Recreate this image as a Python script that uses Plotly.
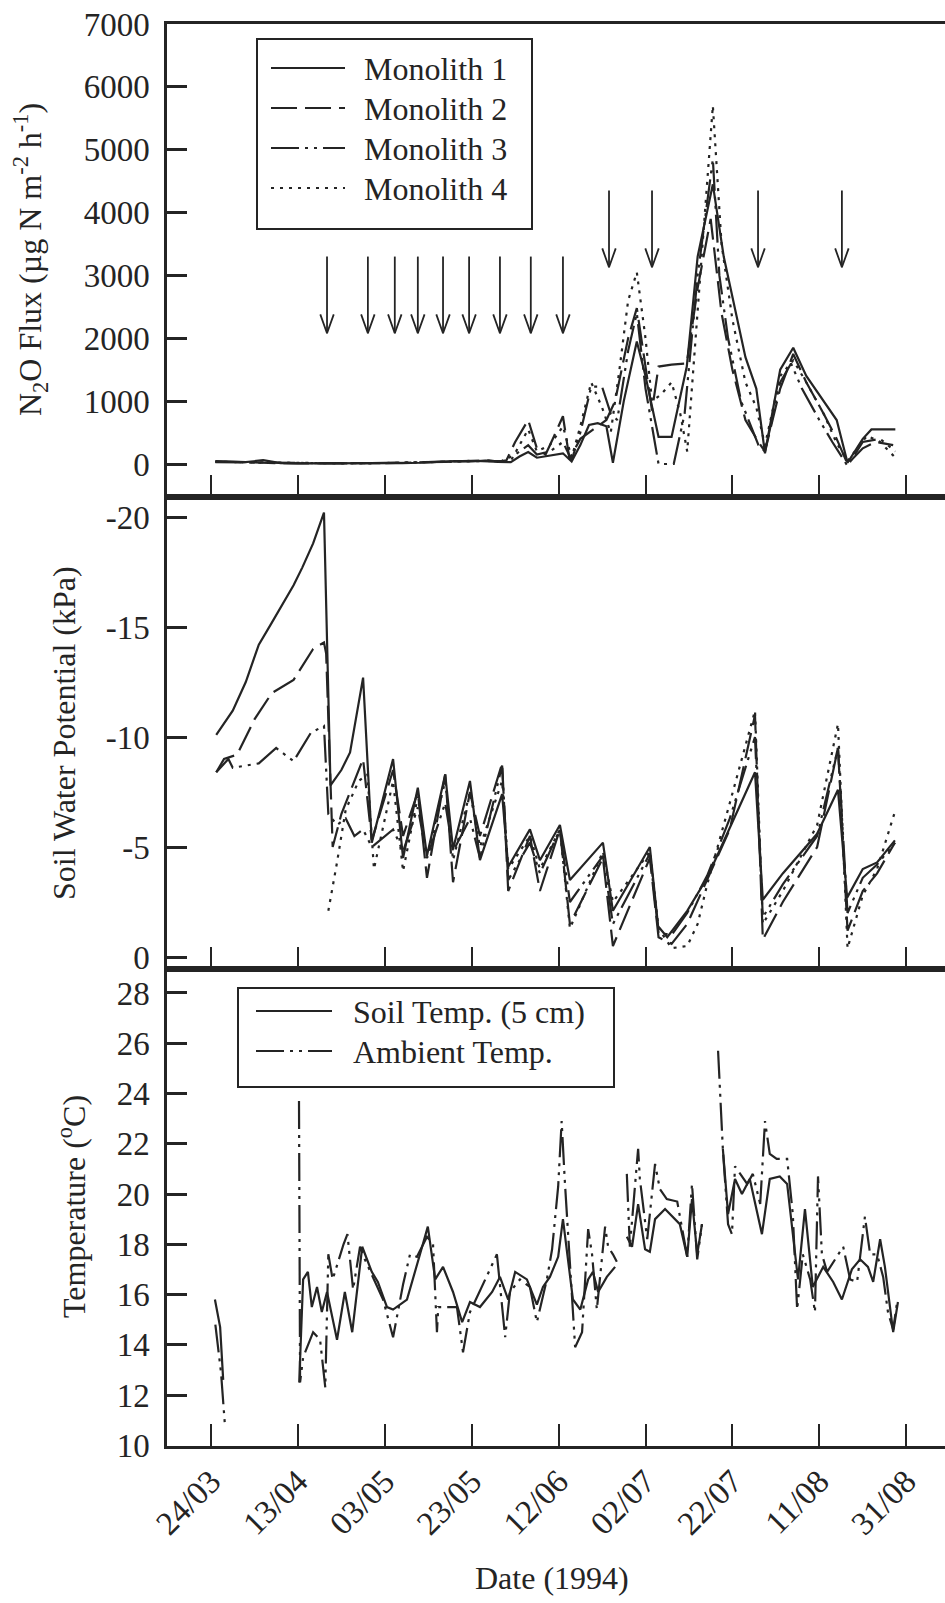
import pandas as pd
import plotly.graph_objects as go

BASE = pd.Timestamp("1994-03-24")   # day 0 of the day offsets below

# ---------------- N2O flux (ug N m-2 h-1) ----------------
flux_m1_days = [1, 4, 8, 12, 16, 20, 24, 28, 32, 36, 40, 44, 48, 52, 56, 60, 63, 66, 69, 71, 73, 75, 78, 81, 83, 85, 87, 89,
                91, 92.5, 95, 98, 100, 103, 106, 109.5, 112, 115.5, 118, 120.5, 123, 125.5, 127.5, 131, 134, 137, 141, 144,
                146.5, 150, 152, 157.5]
flux_m1 = [45, 35, 30, 60, 15, 10, 10, 5, 5, 10, 10, 15, 20, 30, 45, 40, 55, 35, 30, 120, 190, 100, 130, 170, 40, 300, 620, 650,
           600, 20, 1000, 1950, 1400, 430, 430, 1550, 3300, 4450, 3300, 2500, 1700, 1200, 170, 1500, 1850, 1400, 1000, 700,
           20, 400, 550, 550]

flux_m2_days = [1, 5, 10, 15, 20, 25, 30, 35, 40, 45, 50, 55, 60, 64, 66, 68, 70, 73, 75, 77, 79, 81, 82.5, 85, 88, 91, 93,
                96, 98, 100, 101.5, 103, 106, 109.5, 112, 115, 117.5, 120, 123, 126, 127.5, 131, 134, 137, 141, 144, 146.5,
                150, 153, 157]
flux_m2 = [40, 30, 25, 15, 10, 10, 5, 10, 15, 20, 25, 40, 50, 60, 40, 60, 350, 700, 250, 150, 450, 760, 80, 400, 550, 700, 1000,
           2000, 2480, 1500, 850, 1550, 1580, 1600, 2800, 3900, 2400, 1500, 700, 350, 200, 1200, 1750, 1300, 800, 400, 0,
           250, 350, 300]

flux_m3_days = [1, 6, 12, 18, 24, 30, 36, 42, 48, 54, 60, 64, 67, 70, 73, 75, 78, 81, 83, 85, 87.5, 90, 92, 93.5, 96, 98, 100,
                103, 106.5, 109, 112, 115.5, 117, 119, 122, 126, 127.5, 131, 133.5, 136, 140, 143, 146.5, 150, 154, 157.5]
flux_m3 = [30, 25, 20, 15, 10, 10, 15, 20, 25, 35, 50, 40, 50, 150, 300, 150, 200, 350, 60, 500, 1230, 1230, 800, 700, 1800,
           2400, 1200, 0, 0, 800, 3000, 4850, 3000, 2000, 1000, 300, 200, 1300, 1600, 1200, 700, 350, -30, 350, 400, 200]

flux_m4_days = [1, 6, 12, 18, 24, 30, 36, 42, 48, 54, 60, 64, 67, 69, 71, 73, 75, 78, 81, 83, 85, 87.5, 90, 92, 94, 96, 98,
                100, 101.5, 103.5, 106, 108, 109.6, 112, 115.5, 117.5, 120, 123, 125.5, 127.5, 131, 134, 137, 141, 144,
                146.5, 151, 154, 157.5]
flux_m4 = [35, 30, 20, 15, 10, 10, 10, 20, 25, 30, 45, 50, 40, 50, 300, 550, 200, 300, 600, 100, 600, 1300, 900, 500, 1500,
           2600, 3050, 2000, 1000, 1100, 1300, 800, 200, 2500, 5700, 3500, 2300, 1300, 900, 300, 1400, 1650, 1300, 800, 330,
           50, 450, 350, 100]

# event arrows (top panel)
arrow_days = [26.7, 36.1, 42.3, 47.6, 53.4, 59.4, 66.5, 73.6, 81.0, 91.6, 101.5, 125.9, 145.2]
arrow_top = [3300, 3300, 3300, 3300, 3300, 3300, 3300, 3300, 3300, 4350, 4350, 4350, 4350]
arrow_tip = [2080, 2080, 2080, 2080, 2080, 2080, 2080, 2080, 2080, 3130, 3130, 3130, 3130]

# ---------------- Soil water potential (kPa) ----------------
swp_m1_days = [1.2, 5, 8, 11, 14, 17, 19, 21, 23.5, 26, 27.5, 30, 32, 35, 37, 41.9, 44.2, 47.6, 49.7, 53.9, 55.7, 59.6, 61.9,
               67, 68.4, 73.4, 75.7, 80.3, 82.6, 90.2, 92.5, 101, 102.9, 105, 109.6, 114.2, 119.4, 125.2, 127, 131.6,
               139.5, 144.3, 146.4, 150, 153.3, 157.4]
swp_m1 = [-10.1, -11.2, -12.5, -14.2, -15.2, -16.2, -16.9, -17.7, -18.8, -20.2, -7.8, -8.5, -9.3, -12.7, -5.2, -9.0, -4.5,
          -7.7, -4.6, -8.3, -4.9, -8.0, -4.4, -7.4, -4.1, -5.8, -4.4, -6.0, -3.5, -5.2, -2.1, -5.0, -1.4, -0.9, -2.1, -3.6,
          -5.9, -8.4, -2.6, -3.8, -5.6, -7.6, -2.7, -4.0, -4.3, -5.3]

swp_m2_days = [1.2, 3, 6, 10, 14, 19, 23.5, 26, 26.5, 28, 30, 32, 35, 37, 41.9, 44.2, 47.6, 49.7, 53.9, 55.7, 59.6, 61.9, 67,
               68.4, 73.4, 75.7, 80.3, 82.6, 90.2, 92.5, 101, 103, 106, 109.6, 114.2, 119.4, 125.2, 127, 131.6, 139.5,
               144.3, 146.5, 150, 153.3, 157.4]
swp_m2 = [-8.4, -9.0, -9.2, -10.8, -12.0, -12.6, -14.0, -14.3, -13.8, -5.0, -6.5, -7.5, -9.0, -5.3, -8.5, -5.5, -7.5, -3.6,
          -8.3, -3.4, -7.5, -5.5, -8.8, -3.0, -5.5, -3.0, -5.8, -1.5, -4.5, -0.5, -4.5, -0.9, -0.6, -1.5, -3.5, -5.8, -11.0,
          -0.8, -2.5, -5.0, -9.5, -1.2, -3.0, -3.8, -5.2]

swp_m3_days = [1.2, 4, 5, 11, 15, 19, 23, 26, 27, 29, 31, 33, 35, 37, 41.9, 44.2, 47.6, 49.7, 53.9, 55.7, 59.6, 61.9, 67,
               68.4, 73.4, 75.7, 80.3, 82.6, 90.2, 92.5, 101, 103, 106, 109.6, 114.2, 119.4, 125.2, 127, 131.6, 139.5,
               144.3, 146.5, 150, 153.3, 157.4]
swp_m3 = [-8.4, -9.0, -8.6, -8.8, -9.5, -8.9, -10.2, -10.5, -6.5, -6.0, -6.3, -5.5, -5.8, -5.0, -5.8, -4.8, -6.8, -4.5, -7.0,
          -4.8, -6.3, -4.5, -8.7, -3.5, -5.2, -3.8, -5.8, -2.5, -4.6, -1.5, -4.7, -1.1, -1.0, -2.0, -3.7, -6.3, -10.0, -1.8,
          -3.3, -5.5, -9.5, -2.0, -3.6, -4.2, -5.2]

swp_m4_days = [27, 29, 31, 34, 36, 37.5, 41.9, 44.2, 47.6, 49.7, 53.9, 55.7, 59.6, 61.9, 67, 68.4, 73.4, 75.7, 80.3, 82.6,
               90.2, 92.5, 101, 103, 106, 109.6, 112, 114.2, 119.4, 125.2, 127, 131.6, 139.5, 144.3, 146.5, 150, 153.3,
               157.4]
swp_m4 = [-2.1, -4.3, -6.7, -8.0, -8.3, -4.0, -8.0, -3.9, -7.3, -4.5, -8.0, -4.4, -7.5, -5.0, -8.0, -4.0, -5.5, -4.0, -5.8,
          -1.3, -4.8, -2.5, -4.8, -1.3, -0.4, -0.5, -1.5, -3.3, -7.0, -11.2, -1.5, -3.0, -6.0, -10.6, -0.4, -2.8, -4.0, -6.6]

# ---------------- Temperature (deg C) ----------------
soil_t_days = [0.9, 2.1, 2.8, 10, 20.3, 21.2, 22.3, 23.2, 24.4, 25.5, 26.7, 29, 30.8, 32.5, 34.8, 37, 38.4, 40.5, 41.9, 45.1,
               48.1, 49.9, 51.6, 53.4, 55.7, 57.8, 59.6, 61.9, 64.7, 66.5, 68.4, 70, 72.7, 75, 76.4, 78, 79.9, 81, 83.3, 85,
               86.8, 87.9, 89.1, 91.1, 93, 94.5, 95.7, 96.9, 98.3, 99.9, 101, 102.2, 104.5, 107.9, 109.6, 110.7, 111.9, 113,
               115, 117.8, 119, 120.6, 122.2, 124, 126.8, 128.6, 130.9, 132.6, 133.9, 135.1, 136.7, 138.5, 140.9, 143.2,
               145.2, 147.5, 149.4, 151.2, 152.4, 154, 155.1, 157, 158.1]
soil_t = [15.8, 14.7, 12.6, None, 12.5, 16.6, 16.9, 15.5, 16.3, 15.3, 16.1, 14.2, 16.1, 14.5, 17.9, 16.9, 16.5, 15.5, 15.4,
          15.8, 17.6, 18.7, 16.6, 17.1, 16.1, 14.9, 15.7, 15.5, 16.1, 16.7, 15.8, 16.9, 16.6, 15.6, 16.3, 16.7, 17.5, 19.0,
          15.8, 15.4, 16.6, 16.9, 16.1, 16.7, 17.1, None, 18.3, 17.9, 19.6, 17.8, 17.7, 19.0, 19.4, 18.8, 17.5, 19.8, 17.6,
          18.8, None, 21.8, 19.2, 20.6, 20.0, 20.6, 18.4, 20.6, 20.7, 20.4, 18.4, 16.6, 19.4, 16.3, 17.1, 16.5, 15.8, 17.0,
          17.4, 17.1, 16.5, 18.2, 17.1, 14.5, 15.7]

amb_t_days = [1.0, 2.3, 3.2, 10, 20.25, 20.5, 21.2, 23.5, 25.1, 26.3, 27, 28, 30.5, 31.4, 32.7, 34.3, 35.4, 39.6, 41.9, 44.2,
              45.8, 47.4, 49.7, 51.1, 52, 52.3, 54.3, 56.6, 58, 59.6, 64.2, 65.8, 67.7, 68.8, 71.1, 73.4, 75, 77.3, 78.5,
              79.9, 80.7, 81.4, 83.3, 83.8, 85.4, 86.8, 87.7, 88.8, 90.7, 91.4, 92.5, 93.4, 94.5, 95.7, 96.4, 98.3, 98.7,
              100.4, 102.2, 103.3, 104.9, 107.3, 109.6, 110.7, 111.9, 113, 115, 116.7, 117.8, 119, 119.9, 120.6, 121.8,
              123.4, 124.7, 126.4, 127.5, 128.6, 130.2, 132.6, 133.9, 134.9, 136.2, 137.9, 139, 139.7, 140.6, 141.8,
              145.5, 147.1, 148.7, 150.5, 151.7, 153.3, 154.7, 155.8, 157, 157.9]
amb_t = [14.8, 12.9, 10.8, None, 23.7, 12.5, 13.5, 14.5, 14.2, 12.3, 17.6, 16.6, 18.0, 18.4, 16.2, 17.9, 17.4, 15.8, 14.3,
         16.4, 17.6, 17.5, 18.3, 18.0, 14.5, 15.5, 15.5, 15.5, 13.7, 15.3, 17.0, 17.6, 14.3, 16.1, 16.6, 16.3, 14.9, 16.6,
         17.8, 20.3, 22.9, 20.6, 15.3, 13.9, 14.5, 18.6, 17.6, 15.4, 18.7, 17.9, 17.6, 17.3, None, 20.8, 17.9, 21.8, 20.6,
         18.2, 21.2, 20.2, 19.8, 19.7, 17.5, 20.4, 17.4, 18.8, None, 25.7, 21.8, 18.8, 18.4, 21.1, 20.8, 20.4, 20.8, 19.6,
         22.9, 21.6, 21.4, 21.4, 19.2, 15.4, 17.6, 16.6, 15.3, 20.7, 17.6, 16.9, 17.9, 16.6, 16.5, 19.1, 17.6, 17.6, 16.7,
         15.3, 14.6, 15.7]

# ---------------- axes / labels ----------------
flux_ticks = [0, 1000, 2000, 3000, 4000, 5000, 6000, 7000]
swp_ticks = [-20, -15, -10, -5, 0]
temp_ticks = [10, 12, 14, 16, 18, 20, 22, 24, 26, 28]
date_tick_days = [0, 20, 40, 60, 80, 100, 120, 140, 160]
date_tick_text = ["24/03", "13/04", "03/05", "23/05", "12/06", "02/07", "22/07", "11/08", "31/08"]
monolith_names = ["Monolith 1", "Monolith 2", "Monolith 3", "Monolith 4"]
temp_names = ["Soil Temp. (5 cm)", "Ambient Temp."]

# ---------------- styling ----------------
W, H = 945, 1603
ML, MR, MT, MB = 167, 0, 24, 157
INK = "#242424"
FONT = "Liberation Serif"
DASHES = ["solid", "26px,8px", "28px,6px,3px,6px,3px,6px", "3px,6px"]
AMB_DASH = "28px,6px,3px,6px,3px,6px"
LW = 2.2


def dates(days):
    return [None if d is None else BASE + pd.Timedelta(days=d) for d in days]


def xp(px):
    return (px - ML) / (W - ML - MR)


def yp(py):
    return (H - MB - py) / (H - MT - MB)


fig = go.Figure()

for d, v, dash in zip([flux_m1_days, flux_m2_days, flux_m3_days, flux_m4_days],
                      [flux_m1, flux_m2, flux_m3, flux_m4], DASHES):
    fig.add_trace(go.Scatter(x=dates(d), y=v, mode="lines", line=dict(color=INK, width=LW, dash=dash),
                             xaxis="x", yaxis="y", showlegend=False))

# arrows
HEAD_W, HEAD_H = 1.55, 300
axd, ayv = [], []
for d, top, tip in zip(arrow_days, arrow_top, arrow_tip):
    axd += [d, d, None, d - HEAD_W, d, d + HEAD_W, None]
    ayv += [top, tip, None, tip + HEAD_H, tip, tip + HEAD_H, None]
fig.add_trace(go.Scatter(x=dates(axd), y=ayv, mode="lines", line=dict(color=INK, width=1.8),
                         xaxis="x", yaxis="y", showlegend=False, connectgaps=False))

for d, v, dash in zip([swp_m1_days, swp_m2_days, swp_m3_days, swp_m4_days],
                      [swp_m1, swp_m2, swp_m3, swp_m4], DASHES):
    fig.add_trace(go.Scatter(x=dates(d), y=v, mode="lines", line=dict(color=INK, width=LW, dash=dash),
                             xaxis="x2", yaxis="y2", showlegend=False))

fig.add_trace(go.Scatter(x=dates(soil_t_days), y=soil_t, mode="lines", line=dict(color=INK, width=LW),
                         xaxis="x3", yaxis="y3", showlegend=False, connectgaps=False))
fig.add_trace(go.Scatter(x=dates(amb_t_days), y=amb_t, mode="lines", line=dict(color=INK, width=LW, dash=AMB_DASH),
                         xaxis="x3", yaxis="y3", showlegend=False, connectgaps=False))

x_range = [BASE + pd.Timedelta(days=-10.13), BASE + pd.Timedelta(days=168.93)]
d_top, d_mid = yp(497), yp(969)

xcommon = dict(type="date", range=x_range, tickmode="array", tickvals=dates(date_tick_days), ticktext=date_tick_text,
               ticks="inside", ticklen=22, tickwidth=2, tickcolor=INK, showline=True, linewidth=2.5, linecolor=INK,
               mirror=True, showgrid=False, zeroline=False)
ycommon = dict(ticks="inside", ticklen=20, tickwidth=2.5, tickcolor=INK, showline=True, linewidth=2.5,
               linecolor=INK, showgrid=False, zeroline=False, ticklabelstandoff=8,
               tickfont=dict(family=FONT, size=33, color=INK))

fig.update_layout(
    width=W, height=H, margin=dict(l=ML, r=MR, t=MT, b=MB),
    paper_bgcolor="white", plot_bgcolor="white",
    font=dict(family=FONT, color=INK),
    xaxis=dict(xcommon, anchor="y", showticklabels=False),
    xaxis2=dict(xcommon, anchor="y2", matches="x", showticklabels=False),
    xaxis3=dict(xcommon, anchor="y3", matches="x", showticklabels=True, tickangle=-45,
                tickfont=dict(family=FONT, size=33, color=INK)),
    yaxis=dict(ycommon, domain=[d_top, 1], anchor="x", range=[-525, 7000],
               tickvals=flux_ticks, ticktext=[str(t) for t in flux_ticks]),
    yaxis2=dict(ycommon, domain=[d_mid, d_top], anchor="x2", range=[0.545, -20.91],
                tickvals=swp_ticks, ticktext=[str(t) for t in swp_ticks]),
    yaxis3=dict(ycommon, domain=[0, d_mid], anchor="x3", range=[9.97, 28.955],
                tickvals=temp_ticks, ticktext=[str(t) for t in temp_ticks]),
)

ann = []
ann.append(dict(text="N<sub>2</sub>O Flux (µg N m<sup>-2</sup> h<sup>-1</sup>)", x=xp(30), y=yp(260), textangle=-90))
ann.append(dict(text="Soil Water Potential (kPa)", x=xp(64), y=yp(733), textangle=-90))
ann.append(dict(text="Temperature (<sup>o</sup>C)", x=xp(72), y=yp(1207), textangle=-90))
ann.append(dict(text="Date (1994)", x=xp(552), y=yp(1578), textangle=0))
for a in ann:
    a.update(xref="paper", yref="paper", showarrow=False, xanchor="center", yanchor="middle",
             font=dict(family=FONT, size=32, color=INK))

shapes = []
# legend 1 (monoliths)
shapes.append(dict(type="rect", xref="paper", yref="paper", x0=xp(257), x1=xp(532), y0=yp(229), y1=yp(39),
                   line=dict(color=INK, width=2), fillcolor="white", layer="above"))
for i, (name, dash) in enumerate(zip(monolith_names, DASHES)):
    ypix = 68 + 40 * i
    shapes.append(dict(type="line", xref="paper", yref="paper", x0=xp(271), x1=xp(345), y0=yp(ypix), y1=yp(ypix),
                       line=dict(color=INK, width=LW, dash=dash), layer="above"))
    ann.append(dict(text=name, xref="paper", yref="paper", x=xp(362), y=yp(ypix + 1), xanchor="left",
                    yanchor="middle", showarrow=False, font=dict(family=FONT, size=32, color=INK)))
# legend 2 (temperatures)
shapes.append(dict(type="rect", xref="paper", yref="paper", x0=xp(238), x1=xp(614), y0=yp(1087), y1=yp(988),
                   line=dict(color=INK, width=2), fillcolor="white", layer="above"))
for i, (name, dash) in enumerate(zip(temp_names, ["solid", AMB_DASH])):
    ypix = 1011 + 40 * i
    shapes.append(dict(type="line", xref="paper", yref="paper", x0=xp(256), x1=xp(332), y0=yp(ypix), y1=yp(ypix),
                       line=dict(color=INK, width=LW, dash=dash), layer="above"))
    ann.append(dict(text=name, xref="paper", yref="paper", x=xp(351), y=yp(ypix + 1), xanchor="left",
                    yanchor="middle", showarrow=False, font=dict(family=FONT, size=32, color=INK)))

fig.update_layout(annotations=ann, shapes=shapes)
fig.write_html("out.html")
